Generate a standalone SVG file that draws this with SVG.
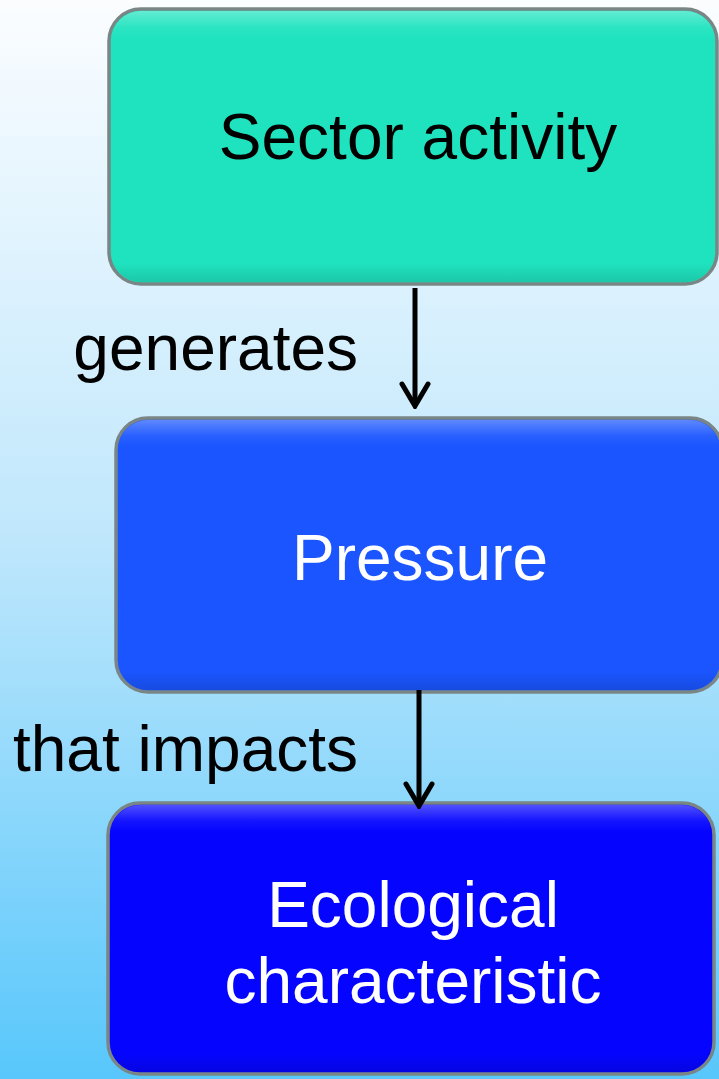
<svg xmlns="http://www.w3.org/2000/svg" width="719" height="1079" viewBox="0 0 719 1079">
  <defs>
    <linearGradient id="bg" x1="0" y1="0" x2="0" y2="1">
      <stop offset="0" stop-color="#fbfdff"/>
      <stop offset="0.5" stop-color="#bfe7fc"/>
      <stop offset="1" stop-color="#58c7fb"/>
    </linearGradient>
    <!-- soft bevel: light band at the top, darker band at the bottom -->
    <linearGradient id="bevel" x1="0" y1="0" x2="0" y2="1">
      <stop offset="0" stop-color="#ffffff" stop-opacity="0.3"/>
      <stop offset="0.06" stop-color="#ffffff" stop-opacity="0.06"/>
      <stop offset="0.1" stop-color="#ffffff" stop-opacity="0"/>
      <stop offset="0.93" stop-color="#000000" stop-opacity="0"/>
      <stop offset="1" stop-color="#000000" stop-opacity="0.12"/>
    </linearGradient>
    <!-- open chevron head, drawn along +x so orient="auto" turns it with the line -->
    <marker id="head" viewBox="0 0 28 32" refX="25" refY="16" markerWidth="28" markerHeight="32" markerUnits="userSpaceOnUse" orient="auto">
      <polyline points="3,3 25,16 3,29" fill="none" stroke="#000" stroke-width="5" stroke-linecap="round" stroke-linejoin="miter"/>
    </marker>
  </defs>
  <style>
    .frame { stroke: #7a8686; stroke-width: 3.5; }
    .bevel { fill: url(#bevel); stroke: none; }
    .label { font-family: "Liberation Sans", Arial, sans-serif; font-size: 64px; }
    .dark { fill: #000; }
    .light { fill: #fff; }
    .edge { stroke: #000; stroke-width: 5; fill: none; }
  </style>

  <rect x="0" y="0" width="719" height="1079" fill="url(#bg)"/>

  <g id="sector-activity">
    <rect class="frame" x="109" y="9" width="608" height="275" rx="32" fill="#1fe3bf"/>
    <rect class="bevel" x="111" y="11" width="604" height="271" rx="30"/>
    <text class="label dark" x="418" y="159" text-anchor="middle">Sector activity</text>
  </g>

  <g id="pressure">
    <rect class="frame" x="116" y="418" width="606" height="274" rx="32" fill="#1a55ff"/>
    <rect class="bevel" x="118" y="420" width="602" height="270" rx="30"/>
    <text class="label light" x="420" y="580" text-anchor="middle">Pressure</text>
  </g>

  <g id="ecological-characteristic">
    <rect class="frame" x="108" y="803" width="606" height="271" rx="32" fill="#0505ff"/>
    <rect class="bevel" x="110" y="805" width="602" height="267" rx="30"/>
    <text class="label light" x="413" y="927" text-anchor="middle">Ecological</text>
    <text class="label light" x="413" y="1003" text-anchor="middle">characteristic</text>
  </g>

  <g id="connectors">
    <line class="edge" x1="415" y1="288" x2="415" y2="406" marker-end="url(#head)"/>
    <text class="label dark" x="358" y="370" text-anchor="end">generates</text>
    <line class="edge" x1="419" y1="690" x2="419" y2="806" marker-end="url(#head)"/>
    <text class="label dark" x="358" y="771" text-anchor="end">that impacts</text>
  </g>
</svg>
